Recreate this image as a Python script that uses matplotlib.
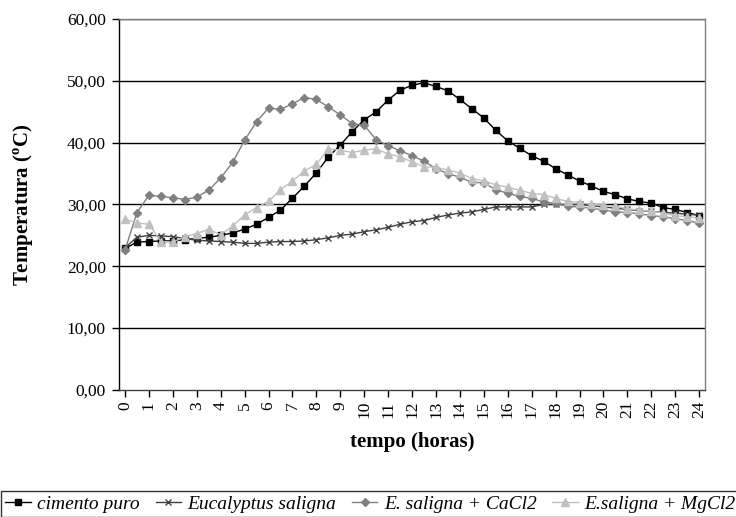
import matplotlib
matplotlib.use('Agg')
import matplotlib.pyplot as plt

plt.rcParams['font.family'] = ['Liberation Serif', 'DejaVu Serif']
plt.rcParams['mathtext.fontset'] = 'custom'
plt.rcParams['mathtext.rm'] = 'Liberation Serif:bold'

# Tempo em horas (uma leitura a cada meia hora)
horas = [0, 0.5, 1, 1.5, 2, 2.5, 3, 3.5, 4, 4.5, 5, 5.5, 6, 6.5, 7, 7.5,
         8, 8.5, 9, 9.5, 10, 10.5, 11, 11.5, 12, 12.5, 13, 13.5, 14, 14.5,
         15, 15.5, 16, 16.5, 17, 17.5, 18, 18.5, 19, 19.5, 20, 20.5, 21,
         21.5, 22, 22.5, 23, 23.5, 24]

cimento_puro = [22.9, 23.9, 24.0, 24.1, 24.1, 24.3, 24.5, 24.7, 25.0, 25.4,
                26.0, 26.8, 27.9, 29.1, 31.0, 33.0, 35.1, 37.7, 39.6, 41.8,
                43.7, 45.0, 46.9, 48.5, 49.3, 49.7, 49.1, 48.4, 47.0, 45.5,
                44.0, 42.0, 40.3, 39.1, 37.9, 37.0, 35.8, 34.8, 33.8, 33.0,
                32.1, 31.6, 30.9, 30.5, 30.2, 29.5, 29.2, 28.7, 28.2]

eucalyptus = [23.0, 24.7, 25.0, 24.9, 24.8, 24.5, 24.2, 24.1, 24.0, 23.9,
              23.7, 23.7, 23.9, 24.0, 24.0, 24.1, 24.3, 24.6, 25.0, 25.2,
              25.6, 25.9, 26.3, 26.8, 27.2, 27.4, 27.9, 28.3, 28.6, 28.8,
              29.2, 29.6, 29.6, 29.6, 29.6, 30.0, 30.0, 30.0, 30.0, 29.8,
              29.6, 29.4, 29.2, 29.0, 28.9, 28.7, 28.6, 28.4, 28.3]

saligna_cacl2 = [22.6, 28.7, 31.5, 31.3, 31.1, 30.8, 31.2, 32.3, 34.3, 36.8,
                 40.4, 43.4, 45.6, 45.4, 46.3, 47.3, 47.0, 45.8, 44.5, 43.1,
                 42.8, 40.5, 39.5, 38.7, 37.9, 37.0, 35.8, 35.0, 34.4, 33.6,
                 33.5, 32.4, 31.8, 31.3, 31.0, 30.4, 30.2, 29.7, 29.6, 29.4,
                 29.1, 28.8, 28.7, 28.5, 28.2, 28.0, 27.7, 27.4, 27.0]

saligna_mgcl2 = [27.6, 27.0, 26.8, 24.0, 23.9, 24.8, 25.3, 26.0, 25.1, 26.5,
                 28.3, 29.5, 30.5, 32.4, 33.8, 35.4, 36.5, 39.0, 38.8, 38.4,
                 38.8, 39.0, 38.2, 37.7, 36.9, 36.1, 36.0, 35.6, 35.1, 34.2,
                 33.8, 33.2, 32.8, 32.3, 31.8, 31.6, 31.0, 30.5, 30.3, 30.0,
                 29.9, 29.7, 29.3, 29.1, 28.9, 28.6, 28.2, 28.0, 27.8]

xticks = list(range(0, 25))
yticks = [0, 10, 20, 30, 40, 50, 60]

fig = plt.figure(figsize=(7.36, 5.17), dpi=100)
ax = fig.add_axes([0.1617, 0.246, 0.7963, 0.717])

ax.plot(horas, cimento_puro, color='black', lw=1, marker='s', ms=5,
        label='cimento puro')
ax.plot(horas, eucalyptus, color='#404040', lw=1, marker='x', ms=4.5,
        mew=1, label='Eucalyptus saligna')
ax.plot(horas, saligna_cacl2, color='#808080', lw=1, marker='D', ms=4.5,
        label='E. saligna + CaCl2')
ax.plot(horas, saligna_mgcl2, color='#C0C0C0', lw=1, marker='^', ms=6,
        label='E.saligna + MgCl2')

ax.set_xlim(-0.25, 24.25)
ax.set_ylim(0, 60)
ax.set_yticks(yticks)
ax.set_yticklabels([f'{v:.2f}'.replace('.', ',') for v in yticks])
ax.set_xticks(xticks)
ax.set_xticklabels([str(t) for t in xticks], rotation=90)
ax.tick_params(axis='both', direction='out', length=5, width=1,
               labelsize=12.5, color='black')
ax.tick_params(axis='y', pad=4.5)
ax.tick_params(axis='x', pad=3)

for v in yticks[1:]:
    ax.axhline(v, color='black', lw=1, zorder=0.5)

ax.spines['left'].set_color('black')
ax.spines['bottom'].set_color('#404040')
ax.spines['top'].set_color('#808080')
ax.spines['right'].set_color('#808080')
for s in ax.spines.values():
    s.set_linewidth(1)

ax.set_xlabel('tempo (horas)', fontsize=15, fontweight='bold', labelpad=10)
ax.set_ylabel(r'Temperatura ($^{\mathrm{o}}$C)', fontsize=15,
              fontweight='bold', labelpad=22)

# a legenda ocupa a faixa de baixo e passa da borda direita, como no original
leg = fig.legend(loc='upper left', bbox_to_anchor=(0.002, 0.05), ncol=4,
                 frameon=True, fancybox=False, edgecolor='black',
                 prop={'style': 'italic', 'size': 14},
                 handlelength=1.3, handletextpad=0.35, columnspacing=0.8,
                 borderpad=0.2, borderaxespad=0)
leg.get_frame().set_linewidth(1)

fig.savefig('out.png', dpi=100)
